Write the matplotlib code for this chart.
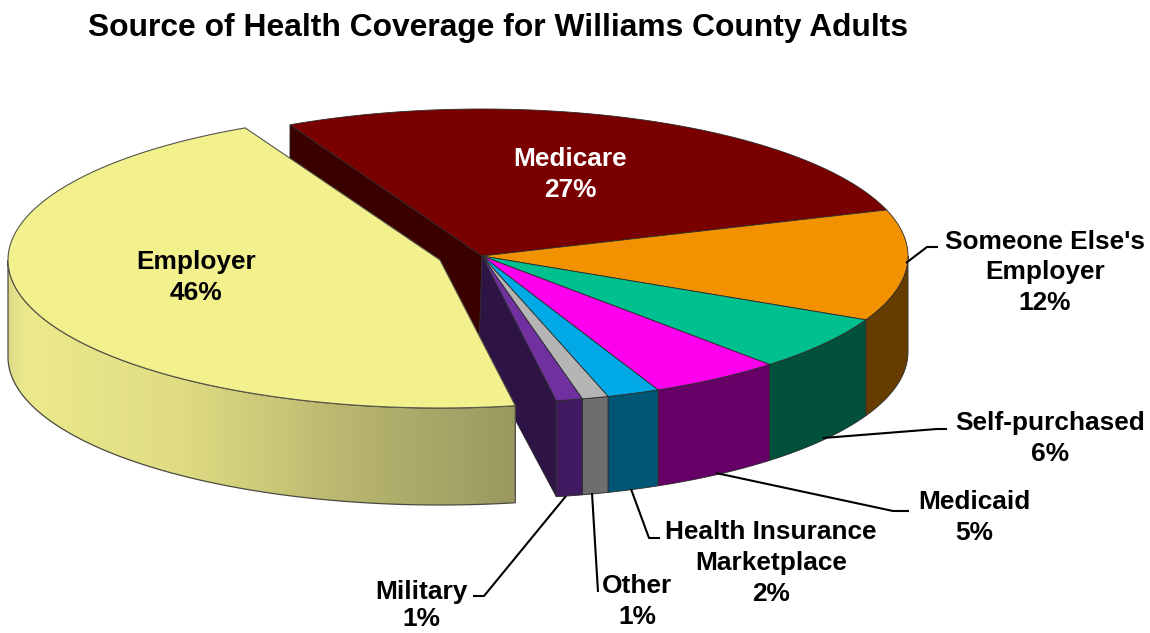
"""
Source of health coverage, drawn as a tilted pie with a pulled-out slice.
"""

import numpy as np
import matplotlib

matplotlib.use("Agg")
import matplotlib.pyplot as plt
from matplotlib.patches import Polygon

categories = ["Medicare", "Someone Else's Employer", "Self-purchased", "Medicaid",
              "Health Insurance Marketplace", "Other", "Military", "Employer"]
shares = [27, 12, 6, 5, 2, 1, 1, 46]
top_colors = ["#7A0000", "#F39200", "#00C08F", "#FF00EE",
              "#00A8E6", "#B5B5B5", "#7030A0", "#F3F18E"]
wall_colors = ["#3A0000", "#663C00", "#00503C", "#660066",
               "#005674", "#6E6E6E", "#401A60", "#9A9860"]

START = 116.8  # degrees, Medicare's leading edge
SKEW = 2.4     # perspective pull on the angles toward the front
CX, CY, RX, RY, DEPTH = 482, 256, 426, 147, 96
# the pulled-out Employer slice sits on its own slightly larger ellipse
EX, EY, ERX, ERY, EDEPTH = 440, 260, 432, 148, 97
EDGE = "#2b2b2b"


def warp(theta):
    return theta - SKEW * np.sin(np.radians(theta - START) / 2) ** 2


def arc(a, b, cx, cy, rx, ry, dy=0, n=160):
    t = np.radians(np.linspace(a, b, n))
    return np.column_stack([cx + rx * np.cos(t), cy - ry * np.sin(t) + dy])


def point(theta, cx, cy, rx, ry, dy=0):
    return arc(theta, theta, cx, cy, rx, ry, dy, 1)[0]


plt.rcParams["font.family"] = ["Liberation Sans", "DejaVu Sans"]
plt.rcParams["font.weight"] = "bold"

fig = plt.figure(figsize=(11.5, 6.33), dpi=100)
ax = fig.add_axes([0, 0, 1, 1])
ax.set_xlim(0, 1150)
ax.set_ylim(633, 0)
ax.axis("off")

edges = START - np.cumsum([0] + shares) * 3.6
edges = warp(edges)

# inner faces that show through the gap left by the Employer slice
apex_low = (CX - 3, CY + DEPTH)
tip = point(edges[0], CX, CY, RX, RY)
ax.add_patch(Polygon([(CX, CY), tip, tip + (0, DEPTH), apex_low],
                     fc=wall_colors[0], ec=EDGE, lw=0.5, zorder=2))
tip = point(edges[7], CX, CY, RX, RY)
ax.add_patch(Polygon([(CX, CY), tip, tip + (0, DEPTH), apex_low],
                     fc="#2E1445", ec=EDGE, lw=0.5, zorder=2))

# outer walls and top faces of the slices still in the ring
for i in range(7):
    a, b = edges[i], edges[i + 1]
    wall_a = min(a, 0)
    if wall_a > b:
        top = arc(wall_a, b, CX, CY, RX, RY)
        low = arc(b, wall_a, CX, CY, RX, RY, DEPTH)
        ax.add_patch(Polygon(np.vstack([top, low]), fc=wall_colors[i],
                             ec=EDGE, lw=0.6, zorder=3))
    face = np.vstack([[(CX, CY)], arc(a, b, CX, CY, RX, RY)])
    ax.add_patch(Polygon(face, fc=top_colors[i], ec=EDGE, lw=0.6, zorder=4))

# Employer slice: shaded wall first, then its top
a, b = edges[7], edges[8]
top = arc(a, -180, EX, EY, ERX, ERY)
low = arc(-180, a, EX, EY, ERX, ERY, EDEPTH)
wall = Polygon(np.vstack([top, low]), fc="none", ec="#4a4a40", lw=0.9, zorder=6)
ax.add_patch(wall)
shade = matplotlib.colors.LinearSegmentedColormap.from_list(
    "wall", [(0, "#DCDA86"), (0.03, "#ECEA8C"), (0.35, "#DEDB82"),
             (0.7, "#B5B36E"), (1, "#9A9860")])
img = ax.imshow(np.linspace(0, 1, 256)[None, :], cmap=shade, aspect="auto",
                extent=(EX - ERX, point(a, EX, EY, ERX, ERY)[0], 633, 0), zorder=5)
img.set_clip_path(wall)
ax.set_xlim(0, 1150)
ax.set_ylim(633, 0)
face = np.vstack([[(EX, EY)], arc(a, b, EX, EY, ERX, ERY)])
ax.add_patch(Polygon(face, fc=top_colors[7], ec="#55554a", lw=0.8, zorder=7))

# leader lines
leaders = [
    [(906, 263), (927, 247), (938, 247)],
    [(823, 438), (937, 429), (947, 429)],
    [(716, 473), (893, 511), (909, 511)],
    [(631, 489), (649, 538), (660, 538)],
    [(592, 493), (598, 592)],
    [(566, 496), (484, 596), (473, 596)],
]
for pts in leaders:
    xs, ys = zip(*pts)
    ax.plot(xs, ys, color="black", lw=1.5, zorder=8, solid_capstyle="butt")

ax.text(497.5, 28, "Source of Health Coverage for Williams County Adults",
        ha="center", va="center", fontsize=22.9, color="black", zorder=9)

labels = [
    (570, 159, "Medicare", "white"), (570, 190, "27%", "white"),
    (196, 262, "Employer", "black"), (196, 293, "46%", "black"),
    (1045, 242, "Someone Else's", "black"), (1045, 272, "Employer", "black"),
    (1045, 303, "12%", "black"),
    (1050, 423, "Self-purchased", "black"), (1050, 454, "6%", "black"),
    (974, 502, "Medicaid", "black"), (974, 533, "5%", "black"),
    (771, 532, "Health Insurance", "black"), (771, 563, "Marketplace", "black"),
    (771, 594, "2%", "black"),
    (637, 586, "Other", "black"), (637, 617, "1%", "black"),
    (421, 592, "Military", "black"), (421, 619, "1%", "black"),
]
for x, y, s, c in labels:
    ax.text(x, y, s, ha="center", va="center", fontsize=18.9, color=c, zorder=9)

fig.savefig("out.png", dpi=100)
